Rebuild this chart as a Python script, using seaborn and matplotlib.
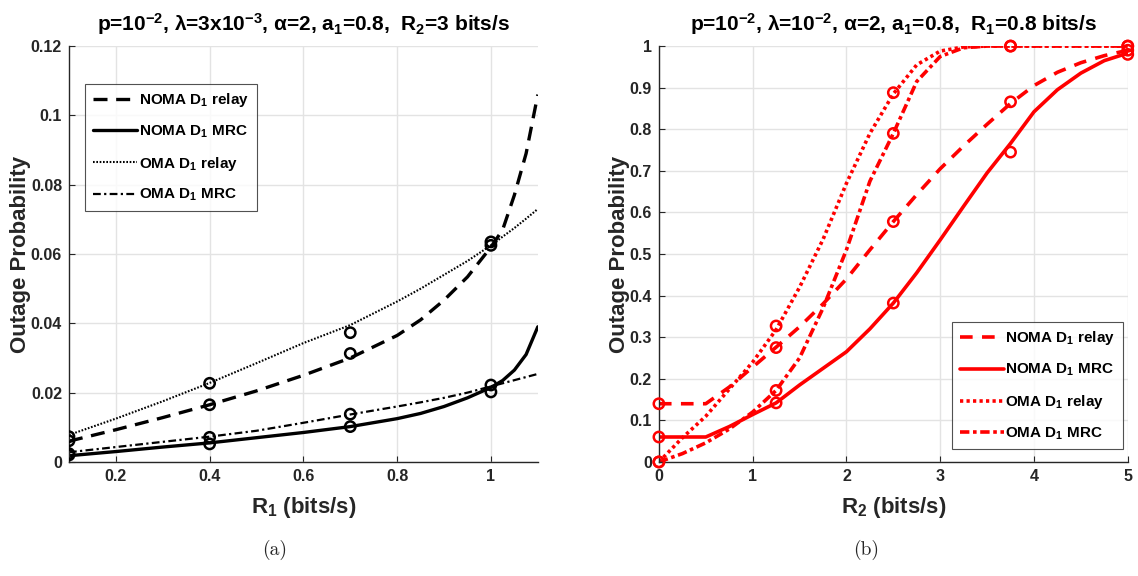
import numpy as np
import pandas as pd
import matplotlib
matplotlib.use("Agg")
import matplotlib.pyplot as plt
import seaborn as sns

# ---------------- data: panel (a) ----------------
r1_line = [0.1, 0.2, 0.3, 0.4, 0.5, 0.6, 0.7, 0.8, 0.85, 0.9, 0.95, 1.0, 1.025, 1.05, 1.075, 1.1]
a_noma_relay = [0.0060, 0.0093, 0.0128, 0.0165, 0.0205, 0.0250, 0.0300, 0.0365, 0.0410, 0.0467, 0.0534, 0.0620, 0.0670, 0.0770, 0.0890, 0.1060]
a_noma_mrc = [0.0018, 0.0030, 0.0043, 0.0055, 0.0070, 0.0085, 0.0102, 0.0125, 0.0140, 0.0160, 0.0185, 0.0215, 0.0235, 0.0265, 0.0310, 0.0390]
a_oma_relay = [0.0078, 0.0125, 0.0175, 0.0228, 0.0285, 0.0343, 0.0395, 0.0463, 0.0500, 0.0540, 0.0580, 0.0625, 0.0650, 0.0675, 0.0702, 0.0730]
a_oma_mrc = [0.0028, 0.0043, 0.0058, 0.0073, 0.0090, 0.0113, 0.0137, 0.0160, 0.0172, 0.0185, 0.0200, 0.0218, 0.0227, 0.0236, 0.0245, 0.0254]

r1_sim = [0.1, 0.4, 0.7, 1.0]
a_sim_noma_relay = [0.0061, 0.0165, 0.0313, 0.0635]
a_sim_noma_mrc = [0.0020, 0.0052, 0.0102, 0.0202]
a_sim_oma_relay = [0.0073, 0.0227, 0.0373, 0.0625]
a_sim_oma_mrc = [0.0024, 0.0071, 0.0138, 0.0222]

# ---------------- data: panel (b) ----------------
r2_line = [0, 0.25, 0.5, 0.75, 1.0, 1.25, 1.5, 1.75, 2.0, 2.25, 2.5, 2.75, 3.0, 3.25, 3.5, 3.75, 4.0, 4.25, 4.5, 4.75, 5.0]
b_noma_relay = [0.14, 0.14, 0.14, 0.18, 0.228, 0.276, 0.325, 0.38, 0.44, 0.51, 0.578, 0.643, 0.705, 0.76, 0.812, 0.862, 0.905, 0.937, 0.96, 0.977, 0.99]
b_noma_mrc = [0.06, 0.06, 0.06, 0.085, 0.114, 0.142, 0.185, 0.225, 0.265, 0.32, 0.382, 0.455, 0.534, 0.615, 0.695, 0.766, 0.842, 0.895, 0.935, 0.965, 0.983]
b_oma_relay = [0.0, 0.058, 0.11, 0.175, 0.24, 0.318, 0.42, 0.535, 0.67, 0.79, 0.885, 0.955, 0.988, 0.998, 1.0, 1.0, 1.0, 1.0, 1.0, 1.0, 1.0]
b_oma_mrc = [0.0, 0.02, 0.046, 0.079, 0.12, 0.172, 0.25, 0.37, 0.51, 0.675, 0.79, 0.915, 0.975, 0.996, 1.0, 1.0, 1.0, 1.0, 1.0, 1.0, 1.0]

r2_sim = [0, 1.25, 2.5, 3.75, 5.0]
b_sim_noma_relay = [0.14, 0.275, 0.578, 0.866, 0.99]
b_sim_noma_mrc = [0.06, 0.142, 0.382, 0.745, 0.98]
b_sim_oma_relay = [0.0, 0.327, 0.888, 1.0, 1.0]
b_sim_oma_mrc = [0.0, 0.172, 0.79, 1.0, 1.0]

labels = ["NOMA D$_1$ relay", "NOMA D$_1$ MRC", "OMA D$_1$ relay", "OMA D$_1$ MRC"]

sns.set_theme(style="whitegrid")
plt.rcParams["font.family"] = ["Liberation Sans", "DejaVu Sans"]
plt.rcParams["font.weight"] = "bold"
plt.rcParams["mathtext.default"] = "regular"
plt.rcParams["axes.unicode_minus"] = False

fig = plt.figure(figsize=(11.38, 5.76), dpi=100)
axa = fig.add_axes([0.0606, 0.198, 0.412, 0.722])
axb = fig.add_axes([0.579, 0.198, 0.412, 0.722])

DARK = "#262626"


def style_axes(ax):
    ax.set_facecolor("white")
    ax.grid(True, color="#e3e3e3", linewidth=1.0)
    for s in ["top", "right"]:
        ax.spines[s].set_visible(False)
    for s in ["left", "bottom"]:
        ax.spines[s].set_color(DARK)
        ax.spines[s].set_linewidth(1.0)
    ax.tick_params(direction="in", length=4, width=0.8, colors=DARK,
                   labelsize=11.5, left=True, bottom=True, pad=5)
    for lab in ax.get_xticklabels() + ax.get_yticklabels():
        lab.set_fontweight("bold")


def style_legend(leg):
    leg.get_frame().set_edgecolor(DARK)
    leg.get_frame().set_linewidth(0.8)
    for t in leg.get_texts():
        t.set_fontweight("bold")
        t.set_color("black")


# ---------- panel (a) ----------
a_styles = [
    (a_noma_relay, a_sim_noma_relay, (0, (4.2, 2.6)), 2.4),
    (a_noma_mrc, a_sim_noma_mrc, "-", 2.4),
    (a_oma_relay, a_sim_oma_relay, (0, (0.8, 0.8)), 1.5),
    (a_oma_mrc, a_sim_oma_mrc, (0, (3.5, 1.5, 1.0, 1.5)), 1.6),
]
for (yl, ys, ls, lw), lab in zip(a_styles, labels):
    sns.lineplot(x=r1_line, y=yl, ax=axa, color="black", linestyle=ls, linewidth=lw,
                 label=lab, estimator=None, sort=False)
    sns.scatterplot(x=r1_sim, y=ys, ax=axa, marker="o", s=55, facecolors="none",
                    edgecolors="black", linewidths=1.8, legend=False, zorder=5)

axa.set_xlim(0.1, 1.1)
axa.set_ylim(0, 0.12)
axa.set_xticks([0.2, 0.4, 0.6, 0.8, 1.0])
axa.set_xticklabels(["0.2", "0.4", "0.6", "0.8", "1"])
axa.set_yticks([0, 0.02, 0.04, 0.06, 0.08, 0.1, 0.12])
axa.set_yticklabels(["0", "0.02", "0.04", "0.06", "0.08", "0.1", "0.12"])
style_axes(axa)
axa.set_xlabel("R$_1$ (bits/s)", fontsize=16, fontweight="bold", color=DARK, labelpad=8)
axa.set_ylabel("Outage Probability", fontsize=16, fontweight="bold", color=DARK, labelpad=0)
axa.set_title("p=10$^{-2}$, \u03bb=3x10$^{-3}$, \u03b1=2, a$_1$=0.8,  R$_2$=3 bits/s",
              fontsize=15, fontweight="bold", color="black", pad=11)
leg = axa.legend(loc="upper left", bbox_to_anchor=(0.035, 0.91), fontsize=11,
                 handlelength=2.9, handletextpad=0.1, labelspacing=0.95,
                 frameon=True, fancybox=False, borderpad=0.5, borderaxespad=0)
style_legend(leg)

# ---------- panel (b) ----------
b_styles = [
    (b_noma_relay, b_sim_noma_relay, (0, (3.5, 2.6)), 2.6),
    (b_noma_mrc, b_sim_noma_mrc, "-", 2.6),
    (b_oma_relay, b_sim_oma_relay, (0, (0.9, 0.9)), 2.6),
    (b_oma_mrc, b_sim_oma_mrc, (0, (2.6, 1.0, 1.0, 1.0)), 2.6),
]
for (yl, ys, ls, lw), lab in zip(b_styles, labels):
    sns.lineplot(x=r2_line, y=yl, ax=axb, color="red", linestyle=ls, linewidth=lw,
                 label=lab, estimator=None, sort=False)
    sns.scatterplot(x=r2_sim, y=ys, ax=axb, marker="o", s=55, facecolors="none",
                    edgecolors="red", linewidths=1.8, legend=False, zorder=5, clip_on=False)

axb.set_xlim(0, 5)
axb.set_ylim(0, 1)
axb.set_xticks([0, 1, 2, 3, 4, 5])
axb.set_yticks(np.arange(0, 1.01, 0.1))
axb.set_yticklabels(["0", "0.1", "0.2", "0.3", "0.4", "0.5", "0.6", "0.7", "0.8", "0.9", "1"])
style_axes(axb)
axb.set_xlabel("R$_2$ (bits/s)", fontsize=16, fontweight="bold", color=DARK, labelpad=8)
axb.set_ylabel("Outage Probability", fontsize=16, fontweight="bold", color=DARK, labelpad=0)
axb.set_title("p=10$^{-2}$, \u03bb=10$^{-2}$, \u03b1=2, a$_1$=0.8,  R$_1$=0.8 bits/s",
              fontsize=15, fontweight="bold", color="black", pad=11)
leg = axb.legend(loc="lower right", bbox_to_anchor=(0.99, 0.03), fontsize=11,
                 handlelength=2.9, handletextpad=0.1, labelspacing=0.95,
                 frameon=True, fancybox=False, borderpad=0.5, borderaxespad=0)
style_legend(leg)

fig.text(0.2417, 0.045, "(a)", ha="center", va="center", fontsize=14,
         family=["cmr10"], fontweight="normal")
fig.text(0.761, 0.045, "(b)", ha="center", va="center", fontsize=14,
         family=["cmr10"], fontweight="normal")

fig.savefig("out.png", dpi=100, facecolor="white")
